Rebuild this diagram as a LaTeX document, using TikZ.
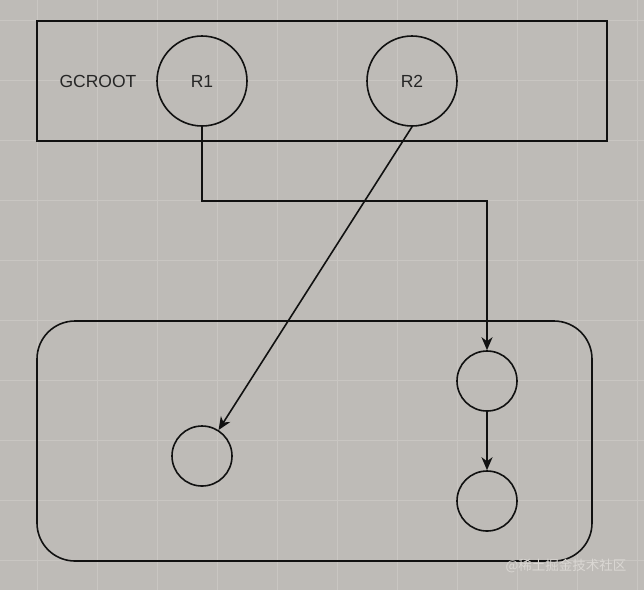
\documentclass[tikz,border=0pt]{standalone}
\usepackage{fontspec}
\setmainfont{Liberation Sans}
\newfontfamily\cjk{Noto Sans CJK SC}
\usetikzlibrary{arrows.meta}
\definecolor{bgc}{HTML}{BEBBB7}
\definecolor{gridc}{HTML}{C9C6C2}
\definecolor{wmc}{HTML}{DAD7D3}
\definecolor{inkc}{HTML}{111111}
\tikzset{
  box/.style={draw=inkc, line width=1.6pt, inner sep=0pt},
  ring/.style={draw=inkc, circle, line width=1.6pt, inner sep=0pt},
  lbl/.style={font=\fontsize{17.5pt}{20pt}\selectfont, text=black!85},
  arr/.style={draw=inkc, line width=1.6pt, -{Stealth[length=13pt,width=11pt,inset=4pt]}}
}
\begin{document}
\begin{tikzpicture}[x=1pt,y=-1pt]
\fill[bgc] (0,0) rectangle (644,590);
\useasboundingbox (0,0) rectangle (644,590);
\foreach \gx in {37,97,...,637} \draw[gridc, line width=1pt] (\gx,0) -- (\gx,590);
\foreach \gy in {20.5,80.5,...,580} \draw[gridc, line width=1pt] (0,\gy) -- (644,\gy);

\node[box, minimum width=570pt, minimum height=120pt] (top) at (322,81) {};
\node[lbl] (gc) at (98,81) {GCROOT};
\node[ring, minimum size=90pt, lbl] (r1) at (202,81) {R1};
\node[ring, minimum size=90pt, lbl] (r2) at (412,81) {R2};

\node[box, rounded corners=38pt, minimum width=555pt, minimum height=240pt] (heap) at (314.5,441) {};
\node[ring, minimum size=60pt] (c1) at (202,456) {};
\node[ring, minimum size=60pt] (c2) at (487,381) {};
\node[ring, minimum size=60pt] (c3) at (487,501) {};

\coordinate (k2) at (487,201);
\draw[arr] (r1.south) |- (k2) -- (c2.north);
\draw[arr] (r2.south) -- (c1);
\draw[arr] (c2.south) -- (c3.north);

\node[text=wmc, font=\cjk\fontsize{13.5pt}{15pt}\selectfont, inner sep=0pt] (wm) at (566,566) {@稀土掘金技术社区};
\end{tikzpicture}
\end{document}
